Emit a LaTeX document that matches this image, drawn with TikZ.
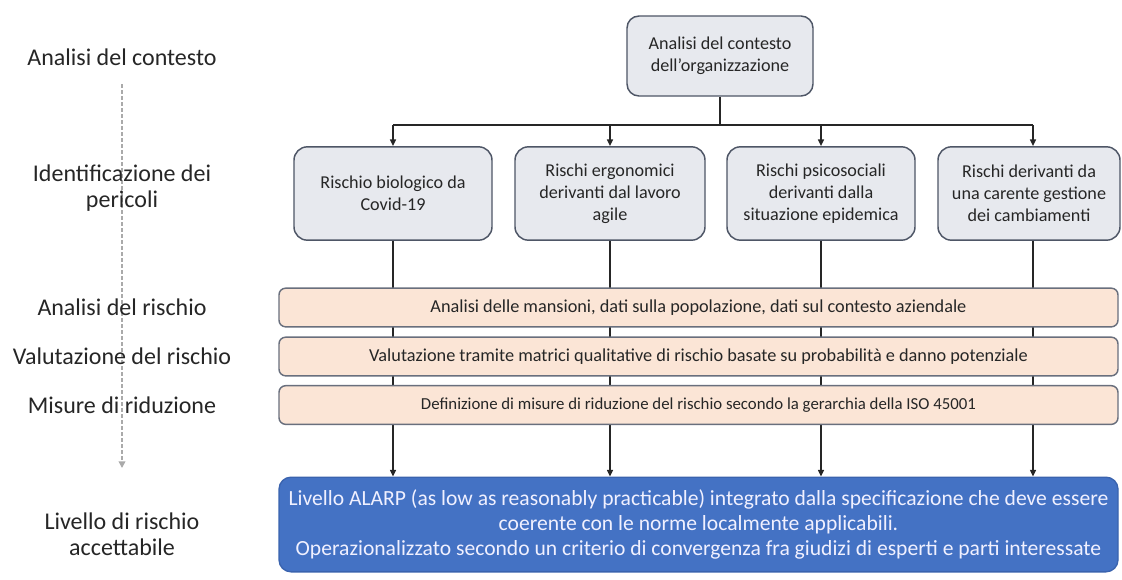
\documentclass[tikz,border=0pt]{standalone}
\usepackage{fontspec}
\setmainfont{Carlito}
\usetikzlibrary{arrows.meta,backgrounds}
\definecolor{boxfill}{HTML}{E7E9EE}
\definecolor{boxdraw}{HTML}{4E5666}
\definecolor{peach}{HTML}{FBE5D6}
\definecolor{bluefill}{HTML}{4472C4}
\definecolor{bluedraw}{HTML}{3A63AE}
\definecolor{labgray}{HTML}{AAAAAA}
\tikzset{
  x=0.75pt,y=-0.75pt,
  graybox/.style={draw=boxdraw,line width=1.1pt,fill=boxfill,rounded corners=10pt,
    align=center,inner sep=0pt,font=\fontsize{13.6}{16.5}\selectfont,text=black!85},
  bar/.style={draw=boxdraw!85,line width=1.1pt,fill=peach,rounded corners=5pt,
    minimum width=629.25pt,minimum height=29pt,inner sep=0pt,
    font=\fontsize{13.7}{15}\selectfont,text=black!85},
  bluebox/.style={draw=bluedraw,line width=1pt,fill=bluefill,rounded corners=9pt,
    minimum width=629.25pt,minimum height=71pt,inner sep=0pt,align=center,
    font=\fontsize{16.2}{18.8}\selectfont,text=white!94!blue},
  lab/.style={align=center,font=\fontsize{18}{19.5}\selectfont,text=black!85},
  conn/.style={line width=1pt,black!85},
  tip/.style={-{Triangle[length=5pt,width=4.5pt]}}
}
\begin{document}
\begin{tikzpicture}
\useasboundingbox (0,0) rectangle (1122,579);
% left labels
\node[lab] (l1) at (122,57) {Analisi del contesto};
\node[lab] (l2) at (122,188) {Identificazione dei\\pericoli};
\node[lab] (l3) at (122,307) {Analisi del rischio};
\node[lab] (l4) at (122,356) {Valutazione del rischio};
\node[lab] (l5) at (122,405) {Misure di riduzione};
\node[lab] (l6) at (122,534) {Livello di rischio\\accettabile};
\coordinate (dtop) at (122,84);
\coordinate (dbot) at (122,468);
% top box
\node[graybox,minimum width=139.5pt,minimum height=60pt,rounded corners=9pt] (top) at (720,56)
  {Analisi del contesto\\dell’organizzazione};
% hazard boxes
\node[graybox,minimum width=148.5pt,minimum height=70pt] (b1) at (393,193.5) {Rischio biologico da\\Covid-19};
\node[graybox,minimum width=142.5pt,minimum height=70pt] (b2) at (610,193.5) {Rischi ergonomici\\derivanti dal lavoro\\agile};
\node[graybox,minimum width=141pt,minimum height=70pt] (b3) at (821,193.5) {Rischi psicosociali\\derivanti dalla\\situazione epidemica};
\node[graybox,minimum width=136.5pt,minimum height=70pt] (b4) at (1029,193.5) {Rischi derivanti da\\una carente gestione\\dei cambiamenti};
% bars
\node[bar] (r1) at (698.5,307.5) {Analisi delle mansioni, dati sulla popolazione, dati sul contesto aziendale};
\node[bar] (r2) at (698.5,356.5) {Valutazione tramite matrici qualitative di rischio basate su probabilità e danno potenziale};
\node[bar,font=\fontsize{12.6}{15}\selectfont] (r3) at (698.5,405) {Definizione di misure di riduzione del rischio secondo la gerarchia della ISO 45001};
% final box
\node[bluebox] (fin) at (698.5,524.5) {Livello ALARP (as low as reasonably practicable) integrato dalla specificazione che deve essere\\coerente con le norme localmente applicabili.\\Operazionalizzato secondo un criterio di convergenza fra giudizi di esperti e parti interessate};
% connectors top
\coordinate (h0) at (720,125);
\coordinate (h1) at (393,125);
\coordinate (h4) at (1033,125);
\draw[conn] (top.south) -- (h0);
\draw[conn] (h1) -- (h4);
\draw[conn,tip] (h1) -- (h1 |- b1.north);
\draw[conn,tip] (h0 -| b2.north) -- (b2.north);
\draw[conn,tip] (h0 -| b3.north) -- (b3.north);
\draw[conn,tip] (h4) -- (h4 |- b4.north);
% connectors down (behind the bars)
\coordinate (d4) at (1033,240);
\begin{scope}[on background layer]
\fill[white] (0,0) rectangle (1122,579);
\draw[labgray,line width=1.1pt,dash pattern=on 3pt off 1.5pt,-{Triangle[length=5pt,width=5pt]}] (dtop) -- (dbot);
\draw[conn,tip] (b1.south) -- (b1.south |- fin.north);
\draw[conn,tip] (b2.south) -- (b2.south |- fin.north);
\draw[conn,tip] (b3.south) -- (b3.south |- fin.north);
\draw[conn,tip] (d4 |- b4.south) -- (d4 |- fin.north);
\end{scope}
\end{tikzpicture}
\end{document}
